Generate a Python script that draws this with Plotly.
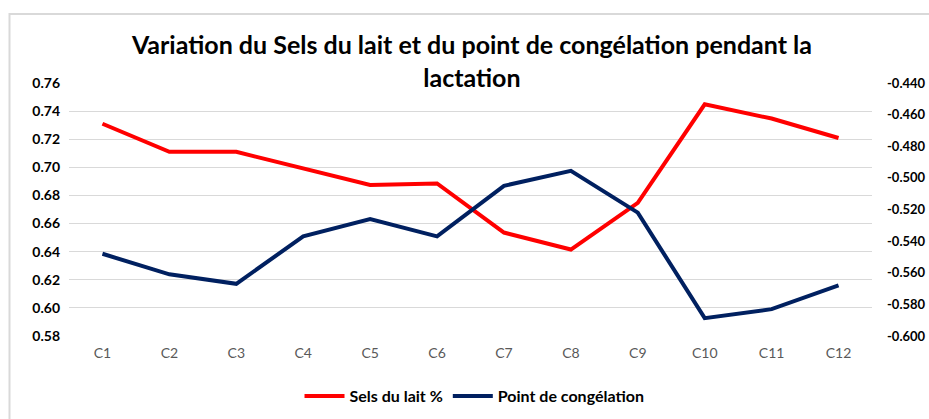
import plotly.graph_objects as go

categories = ["C1", "C2", "C3", "C4", "C5", "C6", "C7", "C8", "C9", "C10", "C11", "C12"]
sels_lait = [0.731, 0.711, 0.711, 0.699, 0.6875, 0.6885, 0.6536, 0.6415, 0.6747, 0.7448, 0.7347, 0.7209]
point_congelation = [-0.548, -0.561, -0.567, -0.537, -0.526, -0.537, -0.505, -0.4956, -0.522, -0.5887, -0.583, -0.568]

left_tickvals = [0.58, 0.60, 0.62, 0.64, 0.66, 0.68, 0.70, 0.72, 0.74, 0.76]
left_ticktext = ["0.58", "0.60", "0.62", "0.64", "0.66", "0.68", "0.70", "0.72", "0.74", "0.76"]
right_tickvals = [-0.60, -0.58, -0.56, -0.54, -0.52, -0.50, -0.48, -0.46, -0.44]
right_ticktext = ["-0.600", "-0.580", "-0.560", "-0.540", "-0.520", "-0.500", "-0.480", "-0.460", "-0.440"]

FONT = "Lato"

fig = go.Figure()
fig.add_trace(go.Scatter(x=categories, y=sels_lait, name="Sels du lait %", mode="lines",
                         line=dict(color="#FF0000", width=4), yaxis="y"))
fig.add_trace(go.Scatter(x=categories, y=point_congelation, name="Point de congélation", mode="lines",
                         line=dict(color="#002060", width=4), yaxis="y2"))

fig.update_layout(
    width=929, height=419,
    margin=dict(l=69, r=57, t=83, b=83, autoexpand=False),
    paper_bgcolor="white", plot_bgcolor="white",
    font=dict(family=FONT, color="black"),
    title=dict(text="<b>Variation du Sels du lait et du point de congélation pendant la<br>lactation</b>",
               x=0.508, xanchor="center", y=0.87, yanchor="top",
               font=dict(family=FONT, size=25, color="black")),
    xaxis=dict(type="category", range=[-0.5, 11.5], showgrid=False, showline=False, zeroline=False,
               automargin=False, ticks="", ticklabelstandoff=7,
               tickfont=dict(family=FONT, size=14, color="#595959")),
    yaxis=dict(range=[0.58, 0.76], tickmode="array", tickvals=left_tickvals, ticktext=left_ticktext,
               showgrid=True, gridcolor="#D9D9D9", gridwidth=1, zeroline=False, showline=False,
               automargin=False, ticklabelstandoff=8,
               tickfont=dict(family=FONT, size=14, color="black", weight="bold")),
    yaxis2=dict(range=[-0.60, -0.44], tickmode="array", tickvals=right_tickvals, ticktext=right_ticktext,
                overlaying="y", side="right", showgrid=False, zeroline=False, showline=False,
                automargin=False, ticklabelstandoff=14,
                tickfont=dict(family=FONT, size=13, color="black", weight="bold")),
    legend=dict(orientation="h", x=0.505, xanchor="center", y=-0.17, yanchor="top",
                font=dict(family=FONT, size=16, color="black", weight="bold"),
                itemwidth=40, bgcolor="rgba(0,0,0,0)"),
    showlegend=True,
)

fig.add_shape(type="rect", xref="paper", yref="paper",
              x0=-0.0741, x1=1.2, y0=-0.5, y1=1.273,
              line=dict(color="#D9D9D9", width=2), fillcolor="rgba(0,0,0,0)", layer="below")

fig.write_html("out.html", config={"displayModeBar": False},
               post_script="document.body.style.margin='0';")
